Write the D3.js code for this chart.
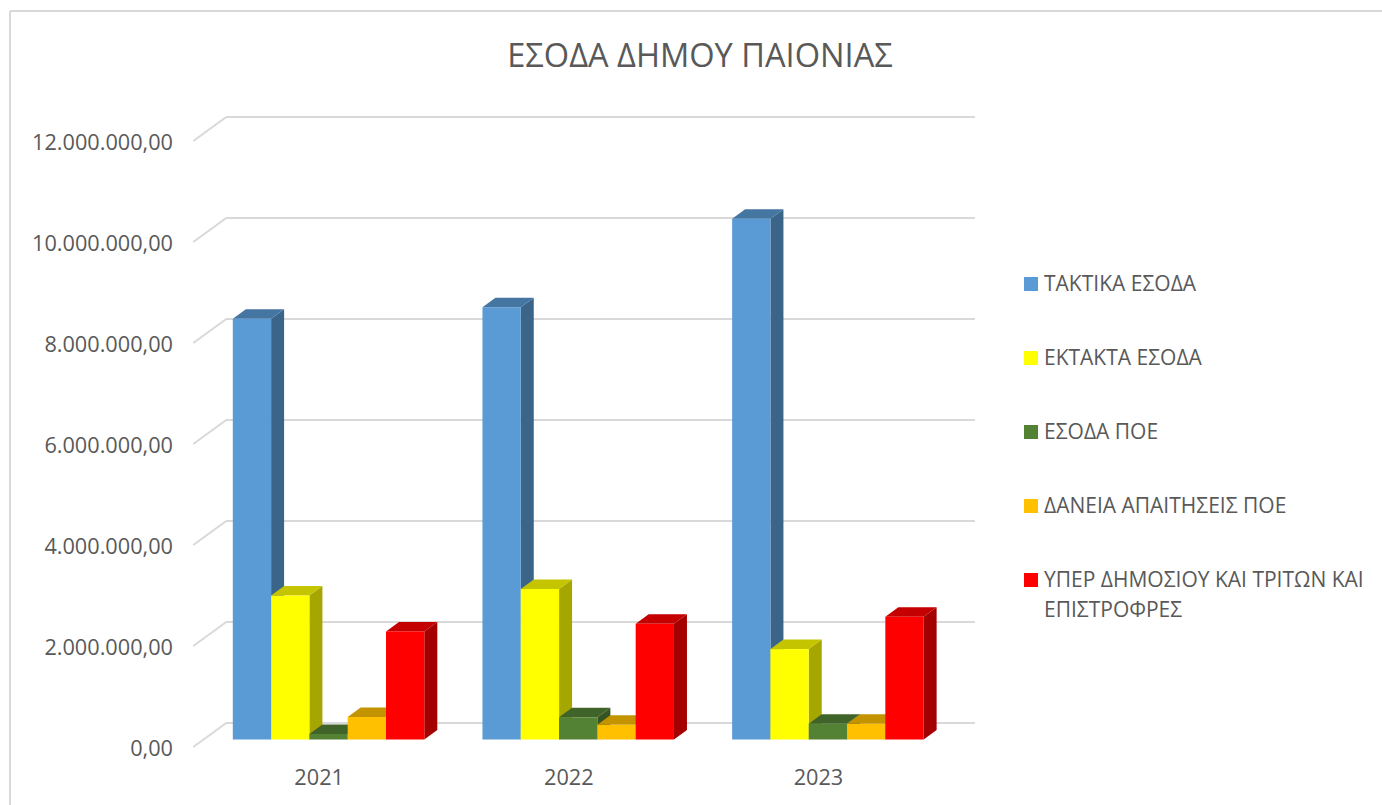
<!DOCTYPE html>
<html>
<head>
<meta charset="utf-8">
<script src="https://d3js.org/d3.v7.min.js"></script>
<style>
    html, body { margin: 0; padding: 0; background: #fff; }
    svg { display: block; }
    text { font-family: "Open Sans", "Noto Sans", sans-serif; fill: #595959; }
    .grid { fill: none; stroke: #d9d9d9; stroke-width: 2px; }
    .frame { stroke: #d9d9d9; stroke-width: 2px; }
    .title { font-size: 32.6px; text-anchor: middle; }
    .axis-label { font-size: 21.7px; }
    .legend-label { font-size: 21px; }
</style>
</head>
<body>
<svg id="chart" width="1382" height="805"></svg>
<script>
    // Data
    const years = ["2021", "2022", "2023"];
    const seriesNames = ["ΤΑΚΤΙΚΑ ΕΣΟΔΑ", "ΕΚΤΑΚΤΑ ΕΣΟΔΑ", "ΕΣΟΔΑ ΠΟΕ", "ΔΑΝΕΙΑ ΑΠΑΙΤΗΣΕΙΣ ΠΟΕ", "ΥΠΕΡ ΔΗΜΟΣΙΟΥ ΚΑΙ ΤΡΙΤΩΝ ΚΑΙ ΕΠΙΣΤΡΟΦΡΕΣ"];
    const taktika = [8330000, 8560000, 10310000];
    const ektakta = [2850000, 2980000, 1790000];
    const esodaPoe = [110000, 440000, 310000];
    const daneia = [445000, 290000, 310000];
    const yper = [2140000, 2290000, 2430000];
    const seriesValues = [taktika, ektakta, esodaPoe, daneia, yper];
    const yTicks = [0, 2000000, 4000000, 6000000, 8000000, 10000000, 12000000];

    // front, top, side
    const frontColors = ["#5b9bd5", "#ffff00", "#548235", "#ffc000", "#ff0000"];
    const topColors = ["#4576a2", "#c4c400", "#406329", "#c49300", "#c40000"];
    const sideColors = ["#3a6589", "#a6a600", "#365422", "#a67e00", "#a40000"];

    const svg = d3.select("#chart");

    // border of the chart area
    svg.append("line").attr("class", "frame").attr("x1", 10).attr("y1", 11).attr("x2", 1382).attr("y2", 11);
    svg.append("line").attr("class", "frame").attr("x1", 10).attr("y1", 11).attr("x2", 10).attr("y2", 805);

    svg.append("text").attr("class", "title").attr("x", 700).attr("y", 67).text("ΕΣΟΔΑ ΔΗΜΟΥ ΠΑΙΟΝΙΑΣ");

    // Scales are for the back wall of the 3D box
    const y = d3.scaleLinear().domain([0, 12000000]).range([723, 117]);
    const x = d3.scaleBand().domain(years).range([193.3, 942.3]);
    const x1 = d3.scaleBand().domain(seriesNames).range([0, 191.5]);

    const floorDx = 33, floorDy = 24;   // front edge of floor against back wall
    const barPlaneDy = 16.5;            // bar fronts against back wall
    const barShift = 39.5;              // bar group start inside the band
    const depthX = 13, depthY = 9.5;    // bar depth

    // Gridlines run along the side wall and the back wall
    svg.append("g").selectAll("path")
        .data(yTicks)
        .enter()
        .append("path")
        .attr("class", "grid")
        .attr("d", d => d3.line()([
            [193.3, y(d) + floorDy],
            [193.3 + floorDx, y(d)],
            [975, y(d)]
        ]));

    // Y axis labels sit at the front end of the gridlines
    const locale = d3.formatLocale({ decimal: ",", thousands: ".", grouping: [3], currency: ["", ""] });
    const yAxis = svg.append("g")
        .attr("transform", `translate(173, ${floorDy + 2})`)
        .call(d3.axisLeft(y).tickValues(yTicks).tickSize(0).tickPadding(0).tickFormat(locale.format(",.2f")));
    yAxis.select(".domain").remove();
    yAxis.selectAll("text").attr("class", "axis-label").attr("fill", null);
    yAxis.attr("font-size", null).attr("font-family", null);

    // X axis labels
    const xAxis = svg.append("g")
        .attr("transform", "translate(1, 770)")
        .call(d3.axisBottom(x).tickSize(0).tickPadding(0));
    xAxis.select(".domain").remove();
    xAxis.selectAll("text").attr("class", "axis-label").attr("fill", null).attr("dy", "0.71em");
    xAxis.attr("font-size", null).attr("font-family", null);

    // Bars, drawn left to right so that a later front covers the earlier side
    const base = y(0) + barPlaneDy;
    years.forEach((year, yi) => {
        const group = svg.append("g");
        seriesNames.forEach((name, si) => {
            const left = x(year) + barShift + x1(name);
            const right = left + x1.bandwidth();
            const top = y(seriesValues[si][yi]) + barPlaneDy;
            const bar = group.append("g");
            bar.append("polygon")
                .attr("fill", sideColors[si])
                .attr("points", [[right, top], [right + depthX, top - depthY], [right + depthX, base - depthY], [right, base]].join(" "));
            bar.append("polygon")
                .attr("fill", topColors[si])
                .attr("points", [[left, top], [left + depthX, top - depthY], [right + depthX, top - depthY], [right, top]].join(" "));
            bar.append("rect")
                .attr("fill", frontColors[si])
                .attr("x", left)
                .attr("y", top)
                .attr("width", x1.bandwidth())
                .attr("height", base - top);
        });
    });

    // Legend
    const legendY = d3.scalePoint().domain(seriesNames).range([284, 580]);
    const legend = svg.append("g").selectAll("g")
        .data(seriesNames)
        .enter()
        .append("g")
        .attr("transform", d => `translate(1024, ${legendY(d)})`);
    legend.append("rect")
        .attr("x", 0)
        .attr("y", -7)
        .attr("width", 14)
        .attr("height", 14)
        .attr("fill", (d, i) => frontColors[i]);
    legend.append("text")
        .attr("class", "legend-label")
        .attr("x", 20)
        .attr("y", 7)
        .text(d => d === seriesNames[4] ? "ΥΠΕΡ ΔΗΜΟΣΙΟΥ ΚΑΙ ΤΡΙΤΩΝ ΚΑΙ" : d);
    legend.filter(d => d === seriesNames[4])
        .append("text")
        .attr("class", "legend-label")
        .attr("x", 20)
        .attr("y", 37)
        .text("ΕΠΙΣΤΡΟΦΡΕΣ");
</script>
</body>
</html>
